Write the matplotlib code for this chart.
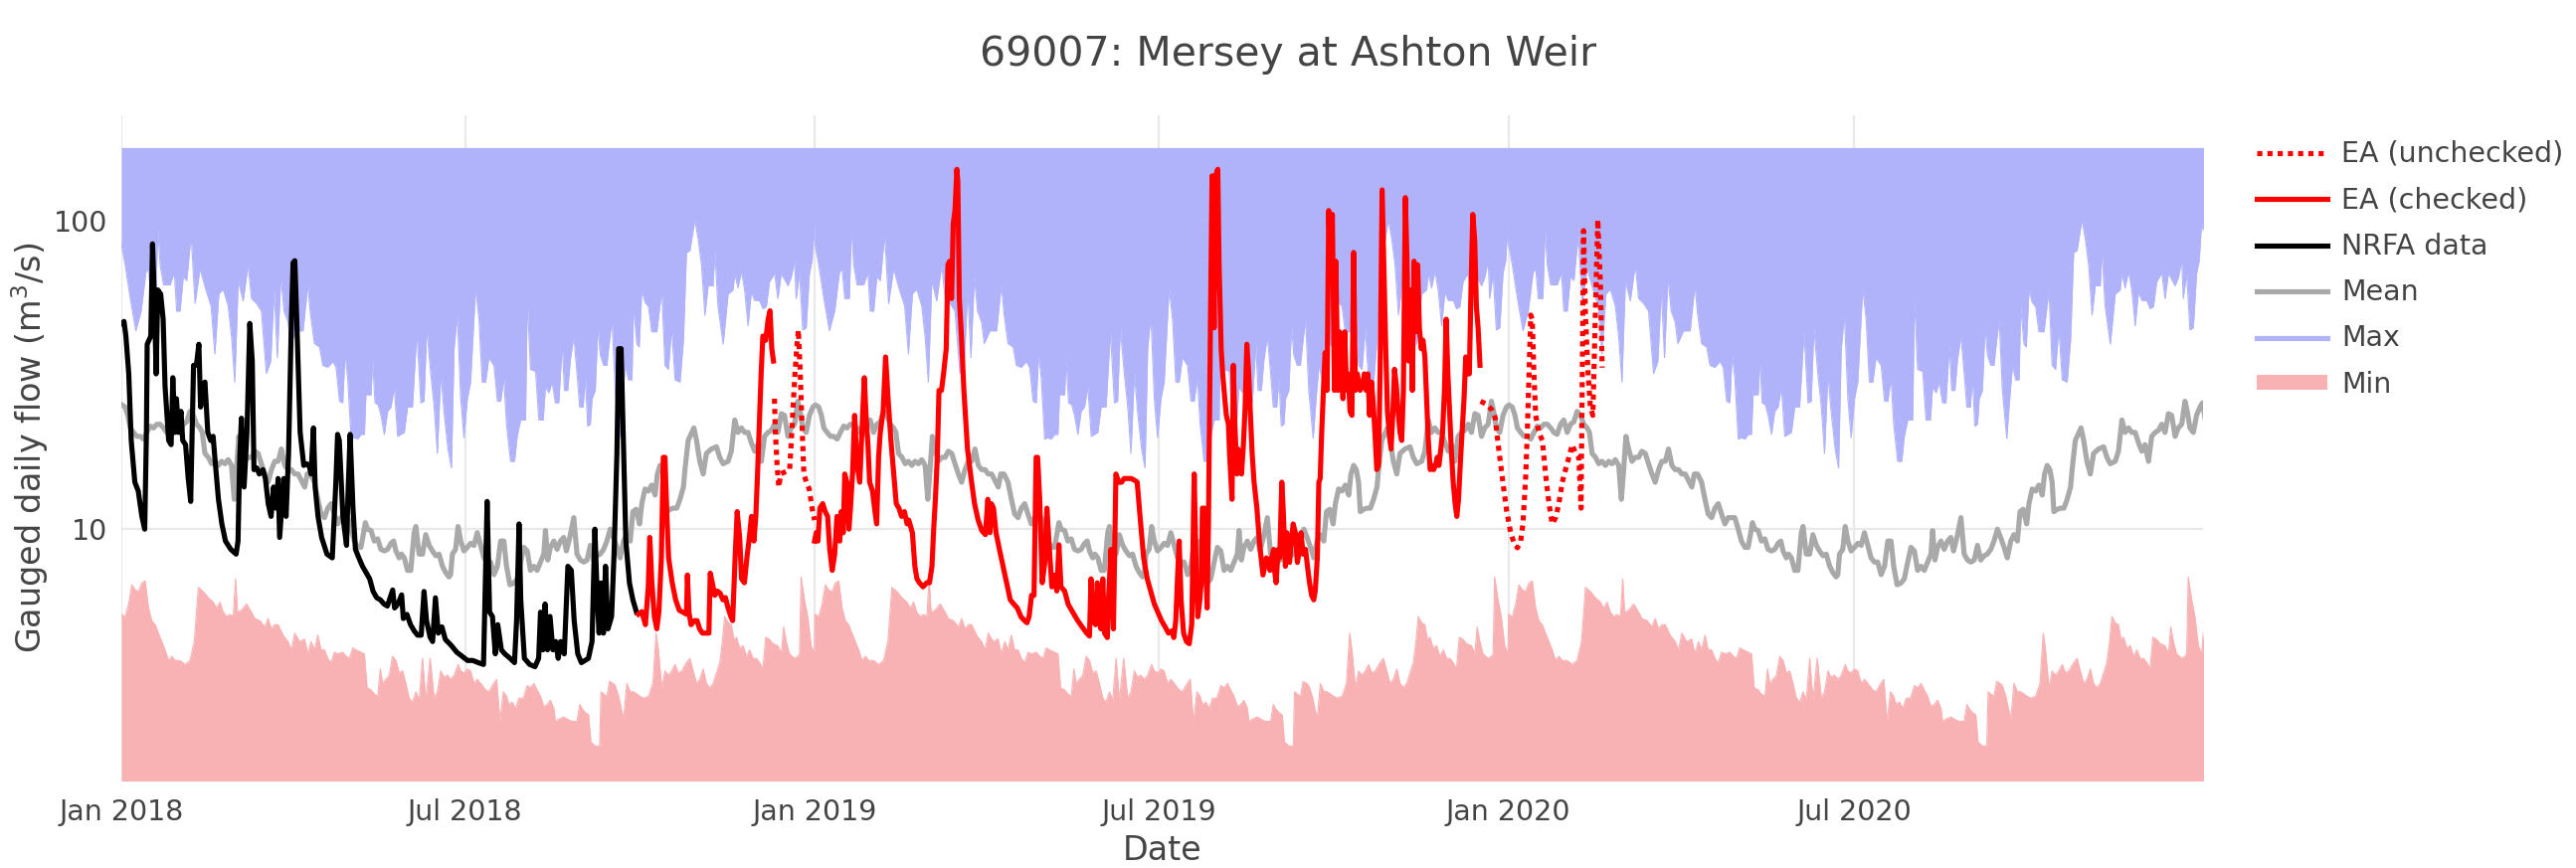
import numpy as np
import matplotlib
matplotlib.use("Agg")
import matplotlib.pyplot as plt
import matplotlib.dates as mdates
from matplotlib.lines import Line2D
from matplotlib.patches import Patch
from matplotlib.ticker import FixedLocator, NullLocator, FixedFormatter

TITLE = "69007: Mersey at Ashton Weir"
YLABEL = "Gauged daily flow (m$^3$/s)"
XLABEL = "Date"
YEARS = [2018, 2019, 2020]
BASE_DATE = "2018-01-01"
FILL_TOP = 173.0

# ---- daily-flow climatology by day of year (repeated every year) ----
max_doy = [0, 2.0, 4.7, 7.6, 10.4, 12.9, 14.3, 15.7, 18.1, 19.2, 20.4, 22.2, 25.6, 27.9, 29.1, 30.9, 32.6, 34.4, 36.7, 38.8,
           41.4, 44.4, 47.2, 49.2, 51.3, 53.6, 56.2, 58.0, 59.7, 61.5, 64.1, 66.7, 68.5, 71.1, 73.7, 76.3, 78.6, 80.4, 82.1, 83.9,
           85.6, 87.7, 89.1, 92.1, 95.6, 98.1, 99.5, 101.6, 104.3, 106.0, 108.6, 111.3, 113.0, 114.8, 116.5, 117.7, 119.1, 120.9,
           122.6, 124.4, 126.1, 127.9, 128.7, 131.4, 132.2, 133.5, 135.2, 136.6, 138.4, 140.1, 141.9, 143.6, 145.4, 147.1, 148.9,
           150.6, 153.2, 155.5, 157.6, 159.3, 160.7, 162.8, 164.6, 166.3, 168.1, 169.8, 171.9, 173.7, 175.1, 176.8, 178.6, 180.3,
           182.1, 183.8, 186.4, 188.2, 189.9, 191.7, 193.4, 196.1, 197.9, 199.6, 201.3, 202.7, 204.8, 206.9, 208.3, 210.1, 212.7,
           213.6, 215.3, 218.0, 219.7, 222.0, 223.2, 225.0, 226.7, 228.4, 230.2, 232.0, 233.2, 234.9, 236.3, 238.1, 239.8, 241.2,
           243.0, 244.2, 245.4, 246.8, 247.7, 249.4, 250.8, 252.0, 253.8, 255.5, 256.4, 258.2, 259.9, 262.2, 263.4, 265.2, 266.9,
           268.7, 269.5, 271.3, 272.5, 273.9, 275.6, 277.4, 279.1, 281.8, 284.4, 286.1, 287.9, 289.6, 291.4, 294.0, 295.8, 297.4,
           299.2, 301.8, 303.6, 305.3, 307.1, 308.8, 311.4, 312.3, 314.0, 316.7, 319.3, 321.9, 322.8, 324.5, 326.3, 328.0, 329.8,
           331.5, 333.3, 335.9, 337.6, 339.4, 341.1, 343.8, 345.5, 347.3, 350.8, 352.5, 354.3, 355.1, 356.9, 358.6, 360.4, 362.1,
           363.5, 364.7, 366.0]
max_flow = [84, 72, 56, 44, 51, 68, 70, 56, 56, 95, 72, 62, 62, 68, 51, 51, 66, 64, 90, 54,
            70, 60, 53, 37, 58, 60, 53, 42, 30, 64, 55, 72, 56, 54, 51, 32, 35, 60, 36, 66,
            51, 47, 40, 44, 44, 62, 50, 40, 39, 34, 33.5, 35, 33.5, 26, 25.7, 37, 31, 19.6,
            19.8, 19.6, 20.3, 20.3, 27.3, 27.3, 35.5, 25.7, 25.3, 23.4, 20.3, 24.1, 24.9, 29, 20, 20.3, 20.6,
            24.9, 24.9, 43.7, 25.7, 26, 45, 32, 25, 17.6, 32, 24, 18.2, 15.8, 38.5, 49.5, 26.5, 19.8,
            26.5, 30, 60.6, 48, 30, 30, 36, 34, 26, 26, 31, 21.9, 16.6, 16.6, 20, 22.6, 22.6,
            56, 33, 32.5, 22.6, 22.6, 29, 27.7, 30, 25.7, 25.7, 39.8, 28.2, 28.2, 35.5, 42.3, 32, 24.9,
            24.9, 31, 21.6, 21.9, 26.5, 28.2, 45.7, 36.8, 34, 34, 38.5, 48, 28.2, 19.7, 24.9, 34, 30.5,
            30.5, 52.7, 39.8, 39, 59.7, 54.4, 52.7, 43.7, 43.7, 59.7, 34, 33, 45, 30.5, 30, 41, 79,
            80, 101, 87, 72, 49.5, 61.6, 61.6, 80, 52.7, 39.8, 57.9, 59.7, 67.6, 60.6, 68.7, 59.7, 45.7,
            58.8, 55.2, 55.2, 51.9, 52.7, 63.5, 67.6, 56, 67.6, 61.6, 65.5, 74.3, 56, 67.6, 44.3, 45, 67.6,
            74.3, 98.4, 91]

min_doy = [0, 2.0, 3.8, 5.5, 7.3, 9.0, 10.8, 12.5, 14.3, 16.0, 17.8, 19.5, 21.3, 23.0, 24.8, 26.5, 28.3, 30.9, 33.5, 36.1,
           38.4, 40.5, 43.1, 45.8, 48.4, 50.1, 51.9, 53.6, 55.4, 57.1, 58.9, 60.1, 61.1, 63.2, 65.9, 68.5, 70.2, 72.9, 75.5,
           77.2, 79.0, 80.7, 82.5, 85.1, 87.7, 89.5, 91.2, 93.8, 96.4, 98.1, 99.9, 101.6, 103.4, 105.1, 106.9, 108.6, 110.4,
           112.1, 113.9, 116.5, 118.3, 120.0, 121.7, 123.5, 126.1, 127.9, 129.3, 131.4, 133.1, 134.9, 136.3, 137.5, 139.2,
           141.0, 142.7, 144.5, 146.2, 148.0, 149.7, 151.5, 153.2, 155.0, 156.7, 158.5, 160.2, 162.5, 164.6, 166.3, 168.1,
           169.8, 171.6, 173.3, 175.1, 177.2, 178.6, 180.3, 182.1, 183.8, 185.6, 187.3, 189.1, 191.7, 193.4, 195.2, 197.5,
           199.2, 201.0, 202.7, 204.0, 205.7, 207.5, 209.2, 211.5, 213.6, 215.3, 217.1, 218.8, 220.6, 222.3, 224.1, 225.8,
           227.6, 228.4, 230.2, 232.8, 234.6, 237.2, 239.8, 241.2, 242.4, 244.2, 245.9, 247.1, 249.4, 251.7, 252.4, 253.8,
           255.5, 256.9, 258.7, 259.9, 261.7, 264.3, 266.0, 267.8, 269.5, 271.3, 273.0, 274.8, 277.4, 279.7, 281.4, 282.6,
           284.4, 286.1, 287.9, 289.6, 291.4, 293.1, 294.9, 297.4, 299.2, 300.9, 302.7, 304.4, 306.2, 307.9, 309.7, 311.4,
           313.2, 314.9, 316.3, 317.5, 319.3, 321.0, 322.3, 323.7, 325.4, 327.2, 328.9, 330.7, 332.4, 334.2, 335.9, 337.6,
           339.1, 341.1, 342.9, 345.5, 347.3, 348.5, 349.9, 351.6, 354.3, 356.0, 356.9, 357.7, 359.5, 361.2, 363.0, 364.7, 366.0]
min_flow = [5.3, 5.2, 5.72, 6.6, 6.35, 6.28, 6.69, 6.8, 5.55, 5.05, 4.9, 4.6, 4.32, 4.06, 3.75, 3.87, 3.75, 3.75, 3.64, 3.75,
            4.32, 6.47, 6.28, 5.99, 5.8, 5.55, 5.8, 5.38, 5.21, 5.29, 5.21, 6.9, 5.38, 5.46, 5.72, 5.38, 5.13, 5.05, 4.82,
            5.13, 4.75, 4.9, 4.9, 4.53, 4.32, 4.06, 4.6, 4.32, 4.4, 3.94, 4.32, 4.06, 4.53, 4.06, 4.06, 3.81, 3.69,
            3.99, 3.94, 3.99, 3.87, 3.81, 4.12, 4.06, 3.99, 3.94, 3.06, 3.01, 2.92, 2.87, 3.52, 3.16, 3.26,
            3.36, 3.87, 3.75, 3.42, 3.47, 3.16, 2.83, 2.75, 2.97, 2.79, 3.81, 2.79, 3.81, 2.83, 2.97, 3.47,
            3.31, 3.36, 3.26, 3.36, 3.64, 3.47, 3.42, 3.52, 3.47, 3.16, 3.26, 3.16, 3.01, 2.97, 3.11, 3.26,
            2.38, 2.97, 2.87, 2.7, 2.75, 2.62, 2.83, 2.83, 3.11, 3.06, 3.16, 3.01, 2.87, 2.66, 2.7, 2.79,
            2.62, 2.38, 2.42, 2.46, 2.42, 2.38, 2.38, 2.7, 2.62, 2.54, 2.5, 2.04, 1.98, 1.98, 2.97, 2.92,
            2.87, 3.21, 3.16, 3.11, 2.87, 2.42, 3.16, 2.97, 2.97, 2.92, 2.87, 2.83, 2.87, 3.16, 4.6, 4.06,
            3.06, 3.47, 3.36, 3.47, 3.64, 3.42, 3.47, 3.69, 3.81, 3.47, 3.16, 3.26, 3.52, 3.16, 3.06, 3.16,
            3.42, 3.69, 4.32, 5.21, 4.97, 4.9, 4.39, 4.46, 4.12, 4.19, 3.87, 4.06, 3.81, 3.81, 3.69, 3.52,
            4.46, 4.39, 4.25, 4.19, 3.94, 4.82, 4.32, 3.94, 3.81, 3.87, 3.94, 7.0, 5.9, 5.21, 4.19, 3.94, 4.9]

mean_doy = [0.3, 2.0, 3.4, 4.7, 6.4, 8.2, 9.9, 11.7, 13.4, 15.2, 16.9, 18.7, 20.4, 22.2, 23.9, 25.6, 27.4, 29.1, 30.9, 32.6,
            34.4, 36.1, 37.9, 39.6, 41.4, 42.6, 44.0, 45.8, 47.5, 49.2, 51.0, 52.7, 54.5, 56.2, 58.0, 59.4, 60.6, 61.8, 63.2,
            65.0, 66.7, 68.5, 70.2, 72.0, 73.7, 75.5, 77.2, 79.0, 80.7, 82.5, 84.2, 86.0, 87.7, 89.5, 91.2, 93.0, 94.7, 96.5,
            97.8, 99.5, 101.6, 103.4, 105.1, 106.9, 108.6, 110.4, 112.1, 113.9, 115.6, 117.4, 119.1, 120.9, 122.6, 124.4,
            126.1, 127.5, 128.4, 129.6, 131.4, 133.1, 134.9, 136.6, 138.4, 140.1, 141.9, 143.3, 144.5, 146.2, 147.4, 148.9,
            150.6, 152.3, 154.1, 155.0, 156.7, 158.5, 160.2, 162.0, 163.7, 165.5, 167.2, 169.0, 170.7, 172.4, 173.3, 174.2,
            175.9, 177.2, 178.6, 180.3, 182.1, 183.8, 185.6, 187.3, 189.1, 190.8, 192.6, 194.3, 196.1, 197.9, 199.6, 201.3,
            202.7, 204.5, 206.6, 208.3, 210.1, 211.8, 213.6, 215.3, 217.1, 218.8, 220.6, 222.3, 223.2, 224.4, 225.8, 227.6,
            229.3, 231.1, 232.8, 234.2, 236.0, 238.1, 239.8, 241.6, 243.3, 245.1, 246.8, 248.5, 250.3, 252.0, 253.8, 255.5,
            257.3, 259.0, 260.8, 262.5, 264.3, 266.0, 267.8, 269.2, 270.9, 272.7, 273.9, 275.6, 277.4, 279.1, 280.9, 282.1,
            283.5, 284.9, 286.1, 287.0, 288.8, 290.5, 292.3, 294.0, 295.8, 296.6, 298.3, 301.3, 302.7, 304.4, 306.2, 307.9,
            310.5, 313.2, 314.9, 316.7, 319.3, 321.0, 322.8, 324.5, 326.3, 328.0, 329.8, 331.5, 333.3, 335.0, 336.8, 338.5,
            340.3, 342.0, 343.8, 345.5, 347.3, 349.0, 350.8, 352.5, 354.3, 356.0, 357.2, 358.6, 360.4, 362.1, 363.9, 365.3, 366.5]
mean_flow = [25.3, 24.9, 23.4, 21.3, 20.6, 20.0, 20.0, 19.6, 20.6, 21.6, 21.3, 21.9, 21.9, 21.3, 20.6, 20.3, 21.9, 22.6, 20.6, 21.9,
             22.3, 24.1, 23.4, 21.9, 21.3, 20.6, 17.6, 17.1, 16.3, 16.6, 16.1, 16.6, 16.3, 16.8, 16.1, 12.5, 15.6, 20.0, 18.2,
             16.6, 17.1, 17.1, 17.9, 17.6, 16.3, 15.1, 14.2, 15.6, 16.6, 16.6, 18.2, 16.1, 15.6, 15.6, 15.1, 15.1, 14.4, 13.7,
             15.1, 15.1, 14.2, 12.5, 11.2, 10.9, 11.7, 12.1, 11.2, 10.4, 10.9, 10.9, 10.9, 10.0, 9.15, 8.73,
             8.73, 9.74, 10.5, 10.0, 9.9, 9.15, 9.3, 8.6, 8.5, 8.6, 9.0, 9.15, 8.5, 8.07, 8.3, 8.07,
             7.35, 7.35, 9.74, 10.2, 8.3, 8.3, 9.6, 8.86, 8.5, 8.2, 8.3, 7.58, 7.23, 7.0, 7.12, 8.3,
             8.6, 10.2, 9.15, 8.5, 8.73, 9.0, 8.86, 9.74, 8.86, 8.07, 7.82, 7.82, 7.12, 7.58, 9.15, 9.15,
             7.58, 6.6, 6.69, 6.9, 7.82, 8.73, 8.5, 7.35, 7.58, 7.35, 7.82, 8.3, 9.9, 7.94, 8.73, 9.15,
             8.6, 9.15, 9.4, 8.5, 9.4, 10.9, 8.3, 7.94, 7.82, 7.94, 8.86, 7.94, 8.2, 8.3, 8.6, 9.15,
             10.0, 9.4, 8.73, 8.07, 9.15, 9.6, 9.15, 11.4, 11.6, 10.4, 12.1, 13.5, 13.3, 13.9, 12.9, 15.1,
             16.1, 15.6, 14.2, 11.4, 11.6, 11.7, 11.7, 12.5, 13.7, 15.6, 19.4, 21.3, 19.4, 16.6, 15.1, 17.6,
             18.2, 18.5, 17.1, 16.3, 16.6, 17.9, 22.6, 20.6, 21.3, 20.6, 20.6, 19.1, 17.9, 18.8, 16.6, 20.0,
             20.6, 20.9, 21.9, 20.6, 23.7, 23.4, 20.0, 21.3, 21.9, 26.0, 24.1, 21.3, 20.6, 23.4, 24.9, 25.7, 23.0]

# ---- observed gauged flows; x = days since 2018-01-01 ----
nrfa_day = [0.5, 1.4, 2.4, 3.9, 5.2, 7.1, 8.9, 10.8, 12.3, 13.2, 13.6, 15.5, 16.4, 17.4, 18.3, 19.2, 20.7, 22.0, 23.0, 24.9,
            26.2, 27.1, 28.2, 29.0, 30.1, 31.4, 32.3, 33.8, 35.2, 36.5, 38.0, 39.5, 40.8, 41.7, 42.8, 44.0, 45.5, 47.0, 48.3,
            49.2, 51.1, 52.9, 54.8, 57.6, 60.4, 61.4, 62.3, 63.2, 64.6, 66.1, 67.6, 68.9, 69.8, 71.3, 72.6, 74.5, 75.8, 77.3,
            78.8, 80.1, 81.4, 82.5, 83.3, 84.4, 85.5, 86.7, 88.0, 89.5, 90.4, 91.3, 92.3, 94.1, 96.0, 97.5, 98.8, 99.8, 101.1,
            102.0, 103.5, 105.4, 108.2, 111.0, 112.9, 113.8, 114.7, 116.6, 118.5, 119.4, 120.4, 121.9, 123.2, 125.0, 126.9,
            128.8, 130.7, 132.5, 134.4, 136.3, 138.2, 140.0, 141.9, 142.8, 143.8, 145.6, 147.5, 148.4, 150.3, 152.2, 154.1,
            155.9, 157.8, 159.3, 160.6, 162.5, 163.8, 165.3, 166.8, 168.7, 170.5, 173.7, 176.5, 179.3, 182.2, 185.0, 187.8,
            190.6, 192.5, 193.8, 195.3, 196.8, 198.1, 200.0, 201.8, 204.6, 206.9, 208.0, 209.3, 210.2, 212.1, 214.9, 217.7,
            219.6, 220.6, 221.9, 223.0, 224.3, 225.6, 227.1, 228.6, 229.9, 231.2, 233.1, 235.0, 236.8, 238.3, 240.2, 242.1,
            244.0, 245.8, 247.7, 249.2, 250.5, 251.4, 252.4, 253.7, 254.8, 256.1, 258.0, 259.3, 260.8, 261.7, 263.0, 264.2,
            265.5, 267.4, 269.2, 271.1]
nrfa_flow = [46.5, 47.2, 42.3, 31.9, 19.4, 14.2, 13.3, 11.0, 10.0, 20.6, 39.8, 42.3, 84.2, 56.1, 31.9, 59.7, 57.9, 48.0, 29.1, 19.4,
             18.8, 31.0, 20.6, 26.5, 20.6, 24.1, 19.4, 18.8, 14.6, 12.3, 34.0, 34.0, 39.8, 24.9, 29.1, 30.0, 20.6, 19.4, 20.0,
             17.1, 12.5, 10.4, 9.15, 8.6, 8.3, 9.15, 17.1, 22.9, 13.7, 20.6, 46.5, 35.1, 15.6, 15.8, 15.1, 15.6, 14.6, 12.1,
             11.0, 13.7, 11.7, 14.6, 9.4, 11.7, 14.6, 11.0, 17.6, 48.0, 73.2, 74.3, 48.0, 20.6, 16.1, 16.3, 16.1, 15.1, 21.3,
             13.7, 11.0, 9.4, 8.3, 8.07, 14.2, 20.3, 19.4, 11.0, 8.86, 13.7, 20.3, 11.7, 8.6, 8.07, 7.58,
             7.23, 6.9, 6.28, 5.99, 5.9, 5.72, 5.63, 6.12, 6.35, 5.55, 5.72, 6.12, 5.13, 5.29, 4.9, 4.68,
             4.53, 4.53, 6.28, 5.05, 4.46, 4.32, 5.99, 4.6, 4.82, 4.39, 4.19, 3.99, 3.87, 3.75, 3.75, 3.69,
             3.64, 12.3, 5.38, 5.21, 3.94, 4.9, 4.06, 3.94, 3.81, 3.69, 5.05, 10.4, 5.9, 3.81, 3.64, 3.58,
             3.81, 5.38, 4.06, 5.72, 4.06, 5.21, 4.06, 4.32, 3.81, 4.32, 3.94, 7.58, 7.35, 5.05, 3.94, 3.69,
             3.75, 3.81, 4.32, 10.0, 5.9, 4.6, 6.69, 4.6, 7.58, 4.75, 5.21, 8.3, 17.6, 38.5, 38.5, 19.4,
             9.15, 6.69, 5.9, 5.38]

nan = float("nan")
ea_checked_day = [272.1, 273.9, 275.8, 277.3, 278.1, 279.2, 280.5, 281.8, 282.9, 284.2, 285.2, 286.1, 287.1, 288.0, 289.9,
                  291.7, 293.6, 295.5, 297.4, 297.9, 298.7, 299.8, 301.7, 303.0, 304.3, 305.8, 307.7, 309.2, 309.9, 311.0,
                  312.3, 313.6, 315.1, 316.6, 317.9, 319.3, 320.8, 321.7, 323.0, 324.1, 325.4, 326.4, 327.9, 329.2, 330.5,
                  331.6, 332.9, 333.9, 334.8, 335.7, 336.7, 337.6, 339.1, 340.4, 341.4, 342.3, 343.2, 354.0,
                  364.8, 365.7, 366.6, 367.6, 369.1, 370.4, 371.7, 372.8, 374.1, 375.4, 376.6, 377.3, 378.1, 378.8, 379.9,
                  380.7, 381.8, 382.9, 383.7, 384.8, 385.9, 387.2, 388.6, 389.7, 391.0, 391.9, 392.9, 393.8, 395.3, 396.6,
                  397.5, 398.5, 399.4, 400.9, 402.2, 403.5, 405.0, 406.5, 407.8, 409.2, 410.6, 412.1, 413.5, 414.4, 416.3,
                  417.6, 418.7, 420.0, 421.9, 423.8, 425.3, 426.6, 427.5, 428.4, 429.4, 430.3, 431.6, 432.7, 434.1, 435.0,
                  435.9, 436.9, 437.8, 438.7, 439.7, 440.2, 441.0, 442.1, 443.4, 445.3, 447.2, 449.0, 450.9, 452.8, 454.7,
                  456.0, 457.1, 457.8, 459.0, 460.3, 462.1, 464.0, 465.9, 467.8, 469.6, 471.5, 473.4, 475.3, 476.6, 477.7,
                  479.0, 480.3, 481.4, 482.2, 483.3, 484.6, 486.0, 487.1, 488.4, 489.7, 491.2, 492.3, 493.4, 494.5, 496.4,
                  498.3, 500.5, 503.3, 505.8, 508.0, 509.5, 510.3, 511.4, 512.7, 513.6, 514.6, 515.5, 516.5, 517.4, 518.9,
                  519.6, 520.8, 522.1, 523.4, 524.9, 526.4, 527.7, 529.6, 531.4, 533.3, 534.6, 536.1, 538.0, 539.9, 541.7,
                  543.6, 545.5, 547.4, 549.3, 551.1, 553.0, 553.9, 554.9, 555.8, 556.7, 557.7, 559.0, 560.5, 562.0, 563.3,
                  564.6, 565.7, 566.5, 567.6, 568.4, 568.9, 569.9, 571.4, 572.1, 573.2, 574.0, 575.1, 575.8, 577.0, 577.7,
                  578.8, 579.6, 580.7, 581.5, 582.6, 583.3, 584.5, 585.2, 586.0, 587.1, 587.6, 588.6, 589.5, 590.5, 591.4,
                  592.3, 593.3, 594.2, 595.1, 596.1, 597.6, 598.9, 599.8, 600.8, 601.7, 602.6, 603.6, 604.5, 605.4, 606.4,
                  606.9, 607.7, 608.8, 609.6, 610.7, 611.4, 612.6, 613.3, 614.0, 614.8, 615.7, 616.7, 617.8, 618.9, 620.0,
                  620.8, 621.9, 623.2, 624.2, 625.3, 626.4, 627.5, 628.3, 629.4, 630.2, 630.9, 631.7, 632.6, 633.5, 634.5,
                  635.4, 636.3, 637.3, 638.4, 639.1, 640.3, 641.0, 642.0, 642.9, 643.8, 644.8, 645.7, 646.6, 647.6, 648.5,
                  649.4, 650.4, 651.9, 653.2, 654.1, 655.1, 656.0, 656.9, 657.9, 658.8, 659.7, 660.7, 661.6, 662.5, 663.5,
                  664.4, 665.4, 666.3, 667.2, 668.2, 669.1, 670.0, 671.0, 671.9, 672.9, 673.8, 674.7, 675.7, 676.6, 677.5,
                  678.5, 679.4, 680.3, 681.3, 682.2, 683.1, 684.1, 685.0, 686.0, 686.9, 687.8, 688.8, 689.7, 690.6, 691.6,
                  692.5, 693.4, 694.4, 695.3, 696.3, 697.2, 698.1, 699.1, 700.0, 700.9, 701.9, 702.8, 703.7, 704.7, 705.6,
                  706.6, 707.5, 708.4, 709.4, 710.3, 711.2, 712.2, 713.1, 714.0, 715.0]
ea_checked_flow = [5.3, 5.4, 4.9, 6.5, 9.4, 6.7, 5.2, 4.75, 5.4, 8.07, 17.1, 17.1, 11.0, 8.07, 6.7,
                   5.9, 5.46, 5.38, 5.3, 7.1, 5.38, 4.9, 5.05, 5.05, 4.75, 4.6, 4.6, 4.6, 7.2, 6.7,
                   6.1, 6.3, 6.2, 5.9, 6.0, 5.55, 5.2, 5.05, 8.07, 11.4, 9.4, 6.9, 6.7, 8.07, 9.4,
                   11.0, 9.15, 11.0, 15.1, 21.3, 31.9, 42.3, 41.0, 48.0, 51.1, 38.5, 35.1, nan,
                   9.15, 9.74, 9.15, 11.7, 12.1, 11.4, 11.0, 8.6, 7.35, 8.3, 11.0, 10.7, 9.15, 11.4, 9.74,
                   15.1, 14.2, 10.0, 11.7, 15.1, 23.4, 16.1, 14.2, 20.6, 31.0, 23.4, 18.8, 14.2, 13.3, 11.4,
                   10.4, 17.1, 20.6, 24.1, 36.2, 26.5, 19.4, 15.1, 12.1, 11.7, 11.0, 11.4, 10.4, 10.7, 9.74,
                   7.58, 6.9, 6.7, 6.5, 6.7, 6.7, 7.58, 10.0, 12.5, 17.1, 28.2, 28.2, 31.9, 38.5, 72,
                   74, 56, 98, 108, 147, 134, 56, 42.3, 28.2, 18.2, 14.6, 12.1, 10.7, 9.9, 9.6,
                   12.5, 9.74, 12.1, 11.7, 9.74, 8.6, 7.58, 6.7, 5.9, 5.72, 5.55, 5.2, 5.05, 4.97, 5.2,
                   6.1, 6.1, 17.1, 17.1, 12.5, 6.7, 7.8, 11.7, 8.6, 6.5, 7.1, 6.3, 8.9, 6.5, 6.3,
                   5.7, 5.4, 5.05, 4.8, 4.6, 4.5, 6.9, 5.05, 4.9, 6.7, 5.05, 4.75, 6.9, 4.6, 4.45,
                   6.1, 8.6, 4.75, 15.1, 14.2, 14.2, 14.6, 14.6, 14.6, 14.4, 14.2, 11.0, 8.07, 6.9, 6.3,
                   5.72, 5.38, 5.05, 4.82, 4.6, 4.68, 4.45, 5.05, 6.9, 9.15, 5.9, 4.6, 4.32, 4.25, 4.9,
                   15.1, 7.1, 5.2, 5.9, 6.9, 11.7, 11.7, 5.55, 10.4, 49.5, 140, 45, 140, 147, 72,
                   38.5, 31.9, 26.5, 23.4, 21.9, 17.1, 12.5, 34.0, 21.9, 15.1, 18.2, 16.1, 15.1, 18.8, 24.9,
                   39.8, 31.9, 23.4, 17.6, 14.2, 11.7, 9.15, 8.07, 7.1, 7.58, 8.07, 7.94, 7.35, 8.07, 8.6,
                   7.35, 6.7, 8.6, 8.07, 14.2, 11.7, 7.58, 9.74, 8.07, 7.8, 9.15, 10.4, 9.74, 7.8, 8.6,
                   9.74, 8.3, 8.6, 7.58, 6.7, 6.1, 5.9, 6.3, 8.07, 14.2, 14.6, 20.6, 28.2, 37.4, 28.2,
                   108, 72, 105, 28.2, 74, 28.2, 43.7, 35.1, 26.5, 43.7, 28.2, 31.9, 24.1, 23.4, 79,
                   28.2, 31.9, 28.2, 29.1, 31.9, 28.2, 31.9, 23.4, 30.0, 25.7, 20.6, 15.6, 16.1, 34.0, 126,
                   72, 38.5, 24.1, 20.6, 18.2, 23.4, 33.0, 29.1, 24.1, 20.6, 19.4, 28.2, 119, 74, 35.1,
                   59.7, 28.2, 74, 43.7, 72, 45, 38.5, 41, 36.2, 26.5, 19.4, 15.6, 16.1, 15.6, 16.1,
                   17.1, 16.1, 18.2, 20.6, 28.2, 48, 31.9, 23.4, 17.6, 14.2, 12.1, 11.0, 12.5, 16.6, 20.6,
                   26.5, 36.2, 31.9, 31.9, 61.6, 105, 87, 52.7, 45, 34]

ea_unchecked_day = [343.7, 344.2, 345.1, 346.0, 347.0, 348.9, 351.7, 352.6, 353.5, 354.5, 355.4, 356.3, 357.3, 358.2,
                    359.2, 360.5, 362.0, 363.5, 364.8, 540.0,
                    715.3, 718.0, 721.0, 723.0, 724.5, 726.0, 727.5, 729.0, 731.2, 733.0, 734.7, 736.4, 737.6, 739.0,
                    739.9, 740.8, 741.7, 742.5, 743.4, 744.3, 746.0, 747.8, 749.5, 751.3, 753.0, 754.8, 756.5, 758.3,
                    760.0, 761.8, 763.5, 765.3, 767.0, 768.2, 769.5, 770.5, 771.9, 773.1, 774.4, 775.8, 777.0, 778.4, 779.3]
ea_unchecked_flow = [26.5, 20.6, 16.1, 13.7, 15.1, 15.3, 15.6, 19.4, 24.9, 31.9, 38.5, 44.3, 31.9, 21.9,
                     15.1, 14.2, 13.5, 11.7, 10.7, nan,
                     26.0, 25.5, 24.5, 23.0, 19.0, 16.0, 13.5, 11.5, 9.7, 9.0, 8.7, 9.15, 10.4, 14.6,
                     20.6, 31.9, 49.5, 48.0, 31.9, 23.4, 20.6, 19.4, 15.1, 12.1, 10.4, 10.9, 12.1, 14.2,
                     15.6, 17.1, 18.8, 17.6, 17.1, 11.7, 93.0, 49.5, 31.9, 24.9, 23.4, 52.7, 101.0, 61.6, 33.4]

# ---- colours / styles ----
C_MAXFILL = "#b1b3fa"
C_MINFILL = "#f9b2b4"
C_MEAN = "#a9a9a9"
C_RED = "#ff0000"
C_TEXT = "#444444"
C_GRID = "#e9e9e9"
LW = 3.7
FS_TICK = 20.5
FS_LEG = 20.5
FS_AXTITLE = 24
FS_TITLE = 29.5


def clim_series(doy, vals):
    xs, ys = [], []
    for yr in YEARS:
        start = mdates.date2num(np.datetime64(f"{yr}-01-01"))
        ndays = 366 if yr % 4 == 0 else 365
        d = np.asarray(doy, float)
        v = np.asarray(vals, float)
        m = d < (ndays + 1 if yr == YEARS[-1] else ndays)
        xs.append(start + d[m])
        ys.append(v[m])
    return np.concatenate(xs), np.concatenate(ys)


base = mdates.date2num(np.datetime64(BASE_DATE))

fig = plt.figure(figsize=(25.9, 8.73), dpi=100)
W, H = 2590, 873
ax = fig.add_axes([122 / W, (H - 785) / H, (2215 - 122) / W, (785 - 116) / H])

ax.set_yscale("log")
ax.set_ylim(1.53, 220)
ax.set_xlim(base, base + 1095.5)

mx_x, mx_y = clim_series(max_doy, max_flow)
mn_x, mn_y = clim_series(min_doy, min_flow)
me_x, me_y = clim_series(mean_doy, mean_flow)

ax.fill_between(mx_x, mx_y, FILL_TOP, color=C_MAXFILL, lw=0, zorder=1)
ax.plot(mx_x, mx_y, color=C_MAXFILL, lw=0.8, zorder=1.1)
ax.fill_between(mn_x, 0.5, mn_y, color=C_MINFILL, lw=0, zorder=1)
ax.plot(mn_x, mn_y, color=C_MINFILL, lw=0.8, zorder=1.1)

ax.plot(me_x, me_y, color=C_MEAN, lw=LW, zorder=2)
ax.plot(base + np.asarray(nrfa_day), nrfa_flow, color="black", lw=LW, zorder=3)
ax.plot(base + np.asarray(ea_checked_day), ea_checked_flow, color=C_RED, lw=LW, zorder=4)
ax.plot(base + np.asarray(ea_unchecked_day), ea_unchecked_flow, color=C_RED, lw=LW,
        linestyle=(0, (1.0, 1.0)), dash_capstyle="butt", zorder=4)

# axes styling (plotly-like)
for s in ax.spines.values():
    s.set_visible(False)
ax.set_axisbelow(True)
ax.grid(True, which="major", color=C_GRID, lw=1.6)
ax.yaxis.set_major_locator(FixedLocator([10, 100]))
ax.yaxis.set_major_formatter(FixedFormatter(["10", "100"]))
ax.yaxis.set_minor_locator(NullLocator())
ax.xaxis.set_major_locator(mdates.MonthLocator(bymonth=[1, 7]))
ax.xaxis.set_major_formatter(mdates.DateFormatter("%b %Y"))
ax.tick_params(axis="both", length=0, labelsize=FS_TICK, labelcolor=C_TEXT)
ax.tick_params(axis="y", pad=10)
ax.tick_params(axis="x", pad=13)

fig.text(0.5, 1 - 55 / H, TITLE, ha="center", va="center", fontsize=FS_TITLE, color=C_TEXT)
fig.text(30 / W, 1 - 450 / H, YLABEL, rotation=90, ha="center", va="center",
         fontsize=FS_AXTITLE, color=C_TEXT)
fig.text(1169 / W, 1.0 / H, XLABEL, ha="center", va="bottom", fontsize=FS_AXTITLE, color=C_TEXT)

handles = [
    Line2D([], [], color=C_RED, lw=LW, linestyle=(0, (1.0, 1.0)), dash_capstyle="butt"),
    Line2D([], [], color=C_RED, lw=LW),
    Line2D([], [], color="black", lw=LW),
    Line2D([], [], color=C_MEAN, lw=LW),
    Line2D([], [], color=C_MAXFILL, lw=LW),
    Patch(facecolor=C_MINFILL, edgecolor="none"),
]
labels = ["EA (unchecked)", "EA (checked)", "NRFA data", "Mean", "Max", "Min"]
fig.legend(handles, labels, loc="upper left", bbox_to_anchor=(2269 / W, 1 - 141 / H),
           bbox_transform=fig.transFigure, frameon=False, fontsize=FS_LEG,
           handlelength=2.5, handleheight=0.45, handletextpad=0.5, labelspacing=0.645,
           borderpad=0, borderaxespad=0, labelcolor=C_TEXT)

fig.savefig("out.png", dpi=100)
